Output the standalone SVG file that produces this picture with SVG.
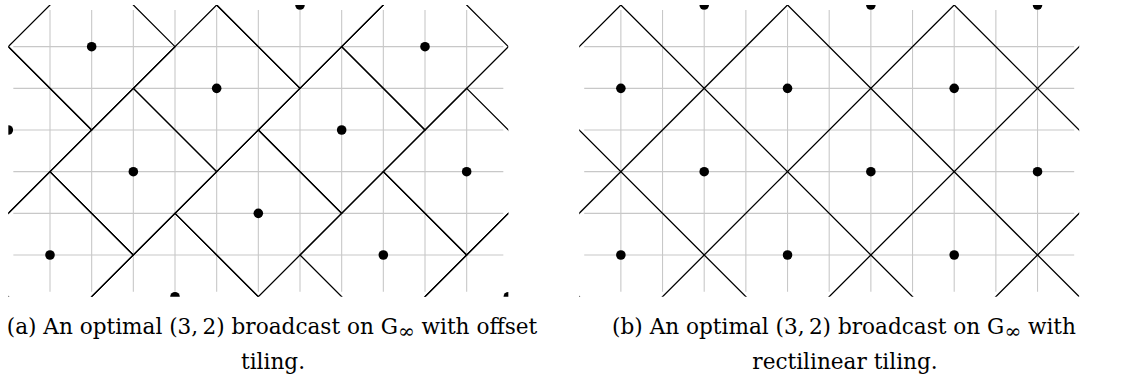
<svg xmlns="http://www.w3.org/2000/svg" width="1125" height="383" viewBox="0 0 1125 383">
<style>
.grid{fill:none;stroke:#c8c8c8;stroke-width:0.0264}
.tile{fill:none;stroke:#000;stroke-width:0.031;stroke-linejoin:miter}
.dot{fill:#000}
.cap{font-family:"DejaVu Serif","Liberation Serif",serif;font-size:21.6px;fill:#000;text-anchor:middle}
</style>
<defs>
<clipPath id="panelClip"><rect x="0" y="0" width="12" height="7"/></clipPath>
<path id="gridPath" d="M1 0.12V6.88M2 0.12V6.88M3 0.12V6.88M4 0.12V6.88M5 0.12V6.88M6 0.12V6.88M7 0.12V6.88M8 0.12V6.88M9 0.12V6.88M10 0.12V6.88M11 0.12V6.88M0.12 1H11.88M0.12 2H11.88M0.12 3H11.88M0.12 4H11.88M0.12 5H11.88M0.12 6H11.88"/>
</defs>
<g id="panel-a" transform="translate(8.333 5) scale(41.6667)">
<g clip-path="url(#panelClip)">
<use href="#gridPath" class="grid"/>
<g id="tiles-a" class="tile">
<path d="M0 1L2 -1L4 1L2 3Z"/>
<path d="M3 2L5 0L7 2L5 4Z"/>
<path d="M6 3L8 1L10 3L8 5Z"/>
<path d="M9 4L11 2L13 4L11 6Z"/>
<path d="M-2 3L0 1L2 3L0 5Z"/>
<path d="M1 4L3 2L5 4L3 6Z"/>
<path d="M4 5L6 3L8 5L6 7Z"/>
<path d="M7 6L9 4L11 6L9 8Z"/>
<path d="M10 7L12 5L14 7L12 9Z"/>
<path d="M5 0L7 -2L9 0L7 2Z"/>
<path d="M8 1L10 -1L12 1L10 3Z"/>
<path d="M2 7L4 5L6 7L4 9Z"/>
<path d="M-1 6L1 4L3 6L1 8Z"/>
</g>
<g id="dots-a" class="dot">
<circle cx="2" cy="1" r="0.115"/>
<circle cx="5" cy="2" r="0.115"/>
<circle cx="8" cy="3" r="0.115"/>
<circle cx="11" cy="4" r="0.115"/>
<circle cx="0" cy="3" r="0.115"/>
<circle cx="3" cy="4" r="0.115"/>
<circle cx="6" cy="5" r="0.115"/>
<circle cx="9" cy="6" r="0.115"/>
<circle cx="12" cy="7" r="0.115"/>
<circle cx="7" cy="0" r="0.115"/>
<circle cx="10" cy="1" r="0.115"/>
<circle cx="4" cy="7" r="0.115"/>
<circle cx="1" cy="6" r="0.115"/>
</g>
</g>
</g>
<g id="panel-b" transform="translate(579.2 5) scale(41.6667)">
<g clip-path="url(#panelClip)">
<use href="#gridPath" class="grid"/>
<g id="tiles-b" class="tile">
<path d="M-1 2L2 -1M-1 6L6 -1M1 8L10 -1M5 8L13 0M9 8L13 4"/>
<path d="M-1 2L5 8M0 -1L9 8M4 -1L13 8M8 -1L13 4M-1 6L1 8"/>
</g>
<g id="dots-b" class="dot">
<circle cx="1" cy="2" r="0.115"/>
<circle cx="3" cy="0" r="0.115"/>
<circle cx="5" cy="2" r="0.115"/>
<circle cx="7" cy="0" r="0.115"/>
<circle cx="9" cy="2" r="0.115"/>
<circle cx="11" cy="0" r="0.115"/>
<circle cx="3" cy="4" r="0.115"/>
<circle cx="7" cy="4" r="0.115"/>
<circle cx="11" cy="4" r="0.115"/>
<circle cx="1" cy="6" r="0.115"/>
<circle cx="5" cy="6" r="0.115"/>
<circle cx="9" cy="6" r="0.115"/>
</g>
</g>
</g>
<g id="captions">
<text class="cap" x="272" y="334">(a) An optimal (3,&#8201;2) broadcast on G<tspan font-size="20px" dy="4">∞</tspan><tspan dy="-4"> with offset</tspan></text>
<text class="cap" x="273" y="369">tiling.</text>
<text class="cap" x="844" y="334">(b) An optimal (3,&#8201;2) broadcast on G<tspan font-size="20px" dy="4">∞</tspan><tspan dy="-4"> with</tspan></text>
<text class="cap" x="845" y="369">rectilinear tiling.</text>
</g>
</svg>
